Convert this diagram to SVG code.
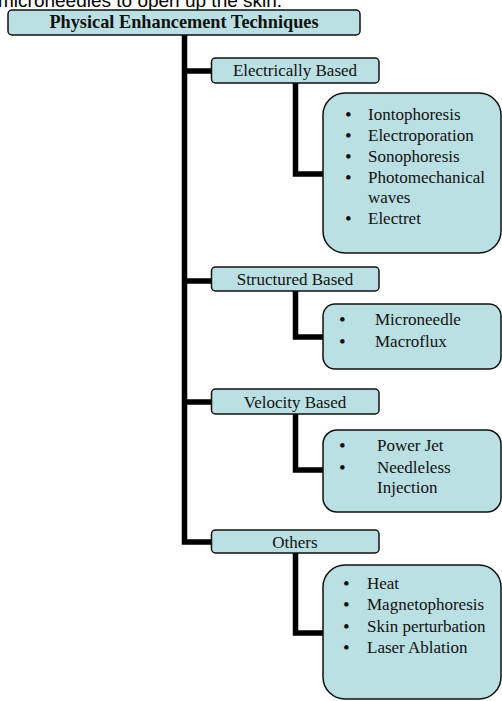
<svg xmlns="http://www.w3.org/2000/svg" width="502" height="701" viewBox="0 0 502 701">
<style>
.box{fill:#bae0e3;stroke:#111;stroke-width:1.5}
.conn{fill:none;stroke:#000;stroke-width:5.5;stroke-linejoin:miter}
text{font-family:"Liberation Serif","Times New Roman",serif;font-size:17px;fill:#111}
.c{text-anchor:middle}
.b{font-weight:bold;font-size:18.3px}
.d{font-size:19px}
.top{font-family:"Liberation Sans",Arial,sans-serif;font-size:19px;fill:#000}
</style>
<rect width="502" height="701" fill="#fff"/>
<text class="top" x="-2" y="6.5">microneedles to open up the skin.</text>
<g id="connectors">
<path class="conn" d="M184.5,35 V542 H212"/>
<path class="conn" d="M184.5,71 H212"/>
<path class="conn" d="M184.5,281 H212"/>
<path class="conn" d="M184.5,402 H212"/>
<path class="conn" d="M295.5,83 V174 H323"/>
<path class="conn" d="M295.5,291 V337 H323"/>
<path class="conn" d="M295.5,414 V470 H323"/>
<path class="conn" d="M295.5,553 V633 H323"/>
</g>
<g id="root">
<rect class="box" x="8" y="10" width="352" height="25" rx="4"/>
<text class="c b" x="184" y="28">Physical Enhancement Techniques</text>
</g>
<g id="electrically">
<rect class="box" x="211.5" y="58" width="167.5" height="25" rx="4"/>
<text class="c" x="295" y="76">Electrically Based</text>
</g>
<g id="electrically-list">
<rect class="box" x="323" y="93" width="178" height="160" rx="22"/>
<text class="d" x="345" y="121">•</text><text x="368" y="120">Iontophoresis</text>
<text class="d" x="345" y="142">•</text><text x="368" y="141">Electroporation</text>
<text class="d" x="345" y="163">•</text><text x="368" y="162">Sonophoresis</text>
<text class="d" x="345" y="184">•</text><text x="368" y="183">Photomechanical</text>
<text x="368" y="203">waves</text>
<text class="d" x="345" y="225">•</text><text x="368" y="224">Electret</text>
</g>
<g id="structured">
<rect class="box" x="211.5" y="267" width="167.5" height="24" rx="4"/>
<text class="c" x="295" y="285">Structured Based</text>
</g>
<g id="structured-list">
<rect class="box" x="323" y="304" width="178" height="65" rx="12"/>
<text class="d" x="339" y="326">•</text><text x="375" y="325">Microneedle</text>
<text class="d" x="339" y="348">•</text><text x="375" y="347">Macroflux</text>
</g>
<g id="velocity">
<rect class="box" x="211.5" y="389" width="167.5" height="25" rx="4"/>
<text class="c" x="295" y="408">Velocity Based</text>
</g>
<g id="velocity-list">
<rect class="box" x="323" y="430" width="178" height="82" rx="14"/>
<text class="d" x="339" y="452">•</text><text x="377" y="451">Power Jet</text>
<text class="d" x="339" y="474">•</text><text x="377" y="473">Needleless</text>
<text x="377" y="493">Injection</text>
</g>
<g id="others">
<rect class="box" x="211.5" y="530" width="167.5" height="23" rx="4"/>
<text class="c" x="295" y="548">Others</text>
</g>
<g id="others-list">
<rect class="box" x="323" y="565" width="178" height="134" rx="22"/>
<text class="d" x="343" y="590">•</text><text x="367" y="589">Heat</text>
<text class="d" x="343" y="611">•</text><text x="367" y="610">Magnetophoresis</text>
<text class="d" x="343" y="633">•</text><text x="367" y="632">Skin perturbation</text>
<text class="d" x="343" y="654">•</text><text x="367" y="653">Laser Ablation</text>
</g>
</svg>
